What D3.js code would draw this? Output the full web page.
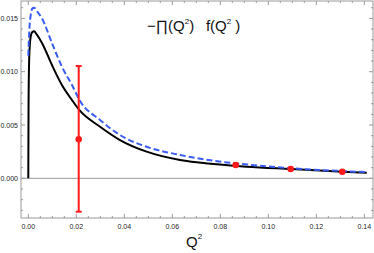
<!DOCTYPE html>
<meta charset="utf-8">
<script src="https://d3js.org/d3.v7.min.js"></script>
<style>
  body { margin: 0; background: #fff; }
  text { font-family: "Liberation Sans", "DejaVu Sans", sans-serif; }
</style>
<div id="my_dataviz"></div>
<script>

// curve samples
var qGrid = [0, 0.0001, 0.0003, 0.0006, 0.001, 0.0016, 0.0024, 0.0035, 0.0057, 0.0099, 0.014, 0.0182,
             0.0215, 0.0299, 0.0382, 0.0493, 0.0632, 0.0771, 0.091, 0.1093, 0.1308, 0.141];
var blackVals = [0, 0.0065, 0.0105, 0.0124, 0.0133, 0.0137, 0.0138, 0.0135, 0.0127, 0.0106, 0.00875, 0.00734,
                 0.00634, 0.00484, 0.00359, 0.0025, 0.00172, 0.00134, 0.00109, 0.00087, 0.00062, 0.00053];
var blueVals = [0.0115, 0.0122, 0.0133, 0.0145, 0.0153, 0.0159, 0.0160, 0.0157, 0.0150, 0.01266, 0.01047, 0.00875,
                0.00728, 0.00547, 0.00406, 0.00296, 0.00219, 0.00165, 0.00130, 0.00095, 0.00068, 0.00058];

// lattice points with errors
var ptQ = [0.021, 0.0864, 0.1093, 0.1308];
var ptVal = [0.00366, 0.00125, 0.00087, 0.00062];
var ptLo = [-0.00313, 0.00122, 0.00085, 0.00060];
var ptHi = [0.01053, 0.00128, 0.00089, 0.00064];

var xTicks = [0, 0.02, 0.04, 0.06, 0.08, 0.10, 0.12, 0.14];
var yTicks = [0, 0.005, 0.010, 0.015];

var W = 374, H = 253;
var L = 21, R = 373, T = 1, B = 218;

var svg = d3.select("#my_dataviz").append("svg")
    .attr("width", W).attr("height", H);

var x = d3.scaleLinear().domain([-0.00304, 0.1436]).range([L, R]);
var y = d3.scaleLinear().domain([-0.00372, 0.01663]).range([B, T]);

var frameCol = "#9a9a9a";

// frame
svg.append("rect").attr("x", L).attr("y", T).attr("width", R - L).attr("height", B - T)
  .attr("fill", "none").attr("stroke", frameCol).attr("stroke-width", 1);

// zero line
svg.append("line").attr("x1", L).attr("x2", R).attr("y1", y(0)).attr("y2", y(0))
  .attr("stroke", frameCol).attr("stroke-width", 1);

// ticks on all sides (inward), major + minor
var xMinor = d3.range(0, 0.1431, 0.005);
var yMinor = d3.range(-0.003, 0.0161, 0.001);
function isMajor(v, step) { return Math.abs(v / step - Math.round(v / step)) < 1e-6; }

var tg = svg.append("g").attr("stroke", frameCol).attr("stroke-width", 1);
xMinor.forEach(function(v) {
  var len = isMajor(v, 0.02) ? 4 : 2;
  tg.append("line").attr("x1", x(v)).attr("x2", x(v)).attr("y1", B).attr("y2", B - len);
  tg.append("line").attr("x1", x(v)).attr("x2", x(v)).attr("y1", T).attr("y2", T + len);
});
yMinor.forEach(function(v) {
  var len = isMajor(v, 0.005) ? 4 : 2;
  tg.append("line").attr("y1", y(v)).attr("y2", y(v)).attr("x1", L).attr("x2", L + len);
  tg.append("line").attr("y1", y(v)).attr("y2", y(v)).attr("x1", R).attr("x2", R - len);
});

// tick labels
svg.selectAll("xlab").data(xTicks).enter().append("text")
  .attr("x", function(d) { return x(d); })
  .attr("y", B + 11)
  .attr("text-anchor", "middle")
  .style("font-size", "7px")
  .style("fill", "#222")
  .text(function(d) { return d3.format(".2f")(d); });

svg.selectAll("ylab").data(yTicks).enter().append("text")
  .attr("x", L - 3)
  .attr("y", function(d) { return y(d) + 2.5; })
  .attr("text-anchor", "end")
  .style("font-size", "7px")
  .style("fill", "#222")
  .text(function(d) { return d3.format(".3f")(d); });

// curves
var line = d3.line().curve(d3.curveMonotoneX)
  .x(function(d) { return x(d[0]); })
  .y(function(d) { return y(d[1]); });

svg.append("path")
  .attr("d", line(qGrid.map(function(q, i) { return [q, blackVals[i]]; })))
  .attr("fill", "none").attr("stroke", "#000").attr("stroke-width", 2);

svg.append("path")
  .attr("d", line(qGrid.map(function(q, i) { return [q, blueVals[i]]; })))
  .attr("fill", "none").attr("stroke", "#3a5cf5").attr("stroke-width", 2)
  .attr("stroke-dasharray", "6,3");

// error bars + points
var pts = ptQ.map(function(q, i) { return {q: q, v: ptVal[i], lo: ptLo[i], hi: ptHi[i]}; });
var pg = svg.append("g");
pg.selectAll("eb").data(pts).enter().append("line")
  .attr("x1", function(d) { return x(d.q); }).attr("x2", function(d) { return x(d.q); })
  .attr("y1", function(d) { return y(d.lo); }).attr("y2", function(d) { return y(d.hi); })
  .attr("stroke", "#ff1a1a").attr("stroke-width", 2);
pts.filter(function(d) { return y(d.lo) - y(d.hi) > 6; }).forEach(function(d) {
  [d.lo, d.hi].forEach(function(e) {
    pg.append("line").attr("x1", x(d.q) - 3).attr("x2", x(d.q) + 3)
      .attr("y1", y(e)).attr("y2", y(e))
      .attr("stroke", "#ff1a1a").attr("stroke-width", 2);
  });
});
pg.selectAll("pt").data(pts).enter().append("circle")
  .attr("cx", function(d) { return x(d.q); })
  .attr("cy", function(d) { return y(d.v); })
  .attr("r", 3.3)
  .attr("fill", "#ff1a1a");

// title
var title = svg.append("text").attr("x", 147).attr("y", 31)
  .style("font-size", "15px").style("fill", "#111");
title.append("tspan").text("\u2212\u220F(Q");
title.append("tspan").attr("dy", -7).style("font-size", "8px").text("2");
title.append("tspan").attr("dy", 7).text(")\u2002 f(Q");
title.append("tspan").attr("dy", -7).style("font-size", "8px").text("2");
title.append("tspan").attr("dy", 7).text(" )");

// x label
var xl = svg.append("text").attr("x", 186).attr("y", 247)
  .style("font-size", "15px").style("fill", "#111");
xl.append("tspan").text("Q");
xl.append("tspan").attr("dy", -8).style("font-size", "8px").text("2");

</script>
